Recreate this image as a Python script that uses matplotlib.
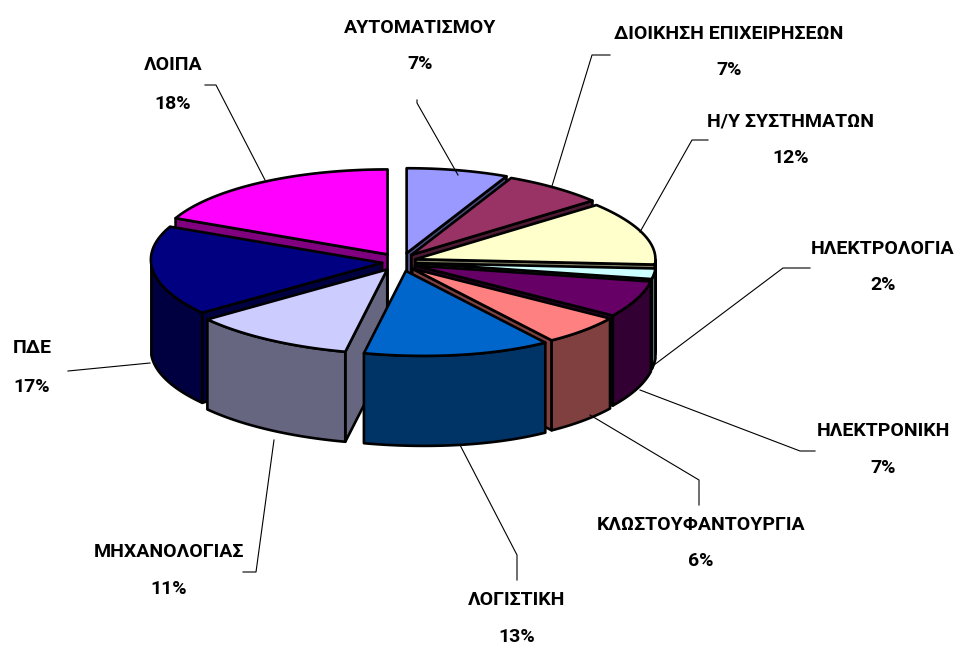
import numpy as np
import matplotlib
matplotlib.use('Agg')
import matplotlib.pyplot as plt
from matplotlib.patches import Polygon

plt.rcParams['font.family'] = ['Roboto', 'Liberation Sans', 'DejaVu Sans']

# data
labels = ['ΑΥΤΟΜΑΤΙΣΜΟΥ', 'ΔΙΟΙΚΗΣΗ ΕΠΙΧΕΙΡΗΣΕΩΝ', 'Η/Υ ΣΥΣΤΗΜΑΤΩΝ', 'ΗΛΕΚΤΡΟΛΟΓΙΑ',
          'ΗΛΕΚΤΡΟΝΙΚΗ', 'ΚΛΩΣΤΟΥΦΑΝΤΟΥΡΓΙΑ', 'ΛΟΓΙΣΤΙΚΗ', 'ΜΗΧΑΝΟΛΟΓΙΑΣ', 'ΠΔΕ', 'ΛΟΙΠΑ']
values = [7, 7, 12, 2, 7, 6, 13, 11, 17, 18]
colors = ['#9999FF', '#993366', '#FFFFCC', '#CCFFFF', '#660066',
          '#FF8080', '#0066CC', '#CCCCFF', '#000080', '#FF00FF']
side_colors = ['#4D4D80', '#4D1A33', '#808066', '#668080', '#330033',
               '#804040', '#003366', '#666680', '#000040', '#800080']

# label centre positions and leader lines, in pixels
label_pos = [(420, 28), (729, 34), (791, 121), (883, 249), (883, 431),
             (701, 525), (517, 600), (169, 552), (32, 348), (173, 65)]
value_pos = [(420, 64), (729, 70), (791, 158), (883, 285), (883, 468),
             (701, 561), (517, 637), (169, 589), (32, 387), (173, 104)]
leaders = [
    [(417, 100), (417, 103), (458, 175)],
    [(610, 55), (592, 55), (552, 186)],
    [(708, 140), (692, 140), (640, 232)],
    [(810, 268), (783, 268), (650, 368)],
    [(815, 451), (800, 451), (640, 390)],
    [(699, 505), (699, 480), (590, 415)],
    [(517, 580), (517, 555), (460, 445)],
    [(243, 572), (256, 572), (274, 440)],
    [(68, 371), (68, 371), (150, 363)],
    [(205, 85), (216, 85), (265, 180)],
]

CX, CY = 399, 262
RX, RY = 240, 85
DEPTH = 90
EXPLODE = 12
GAP = 5


def project(theta):
    t = np.radians(theta)
    front = -np.cos(t)
    x = RX * np.sin(t)
    # the pie is seen a little from the left, the near edge moves right
    f = np.clip(front, 0, 1)
    right = 18 * f ** 3 - 4 * np.sin(2 * t) ** 2 * (front < 0)
    left = 18 * np.cos((t - np.pi) / 2) ** 2
    shift = np.where(np.sin(t) < 0, left, right)
    return x + shift, RY * front


fig = plt.figure(figsize=(9.58, 6.48), dpi=100)
ax = fig.add_axes([0, 0, 1, 1])
ax.set_xlim(0, 958)
ax.set_ylim(648, 0)
ax.axis('off')

# slice angles, clockwise from the top
edges = np.cumsum([0] + values) * 3.6
slices = []
for i in range(len(values)):
    t0, t1 = edges[i], edges[i + 1]
    mid = np.radians((t0 + t1) / 2)
    ox = EXPLODE * np.sin(mid) + GAP * np.sign(np.sin(mid))
    oy = -EXPLODE * 0.75 * np.cos(mid)
    slices.append((np.cos(mid), i, t0, t1, ox, oy))

# back to front
for _, i, t0, t1, ox, oy in sorted(slices, key=lambda s: -s[0]):
    ang = np.linspace(t0, t1, 40)
    px, py = project(ang)
    px = px + CX + ox
    py = py + CY + oy
    apex = (CX + ox, CY + oy)
    edge = dict(edgecolor='black', linewidth=1.9, joinstyle='round')
    # cut faces, only those turned to the viewer
    if t0 >= 180:
        face = [apex, (px[0], py[0]), (px[0], py[0] + DEPTH), (apex[0], apex[1] + DEPTH)]
        ax.add_patch(Polygon(face, facecolor=side_colors[i], **edge))
    if t1 <= 180:
        face = [apex, (px[-1], py[-1]), (px[-1], py[-1] + DEPTH), (apex[0], apex[1] + DEPTH)]
        ax.add_patch(Polygon(face, facecolor=side_colors[i], **edge))
    # outer wall, only the part facing the viewer
    vis = (ang >= 90) & (ang <= 270)
    if vis.sum() > 1:
        wx, wy = px[vis], py[vis]
        wall = np.r_[np.c_[wx, wy], np.c_[wx[::-1], wy[::-1] + DEPTH]]
        ax.add_patch(Polygon(wall, facecolor=side_colors[i], **edge))
    # top
    top = np.r_[[apex], np.c_[px, py]]
    ax.add_patch(Polygon(top, facecolor=colors[i], **edge))

for line in leaders:
    xs, ys = zip(*line)
    ax.plot(xs, ys, color='black', linewidth=0.8)

for name, val, lp, vp in zip(labels, values, label_pos, value_pos):
    ax.text(lp[0], lp[1], name, ha='center', va='center', fontsize=14, fontweight='bold')
    ax.text(vp[0], vp[1], f'{val}%', ha='center', va='center', fontsize=14, fontweight='bold')

fig.savefig('out.png', dpi=100)
